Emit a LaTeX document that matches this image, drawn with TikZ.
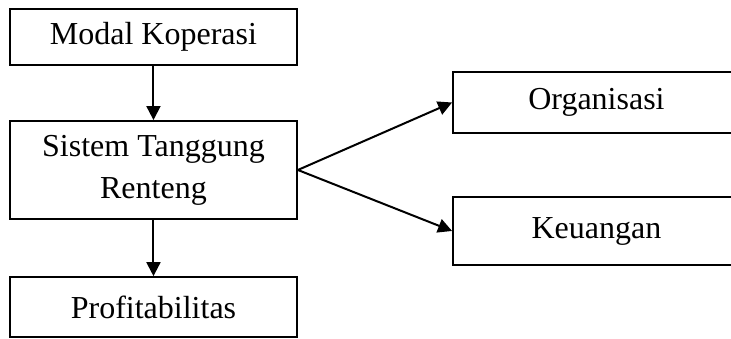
\documentclass[tikz,border=0pt]{standalone}
\usepackage{fontspec}
\setmainfont{Liberation Serif}
\usetikzlibrary{arrows.meta,positioning}
\tikzset{
  blok/.style={draw,line width=1pt,align=center,font=\fontsize{16}{21}\selectfont,minimum width=5.04cm,inner sep=2pt},
  arr/.style={-{Triangle[length=7pt,width=7pt]},line width=1pt}
}
\begin{document}
\begin{tikzpicture}
\useasboundingbox (0,0) rectangle (12.846,-5.940);
\clip (0,0) rectangle (12.846,-5.940);
% left column
\node[blok,minimum height=0.98cm] (modal) at (2.697,-0.650) {Modal Koperasi};
\node[blok,minimum height=1.72cm] (sistem) at (2.697,-2.987) {Sistem Tanggung\\Renteng};
\node[blok,minimum height=1.05cm] (profit) at (2.697,-5.395) {Profitabilitas};
% right column
\node[blok,minimum height=1.07cm] (org) at (10.482,-1.801) {Organisasi};
\node[blok,minimum height=1.19cm] (keu) at (10.482,-4.059) {Keuangan};
\draw[arr] (modal) -- (sistem);
\draw[arr] (sistem) -- (profit);
\draw[arr] (sistem.east) -- (org.west);
\draw[arr] (sistem.east) -- (keu.west);
\end{tikzpicture}
\end{document}
